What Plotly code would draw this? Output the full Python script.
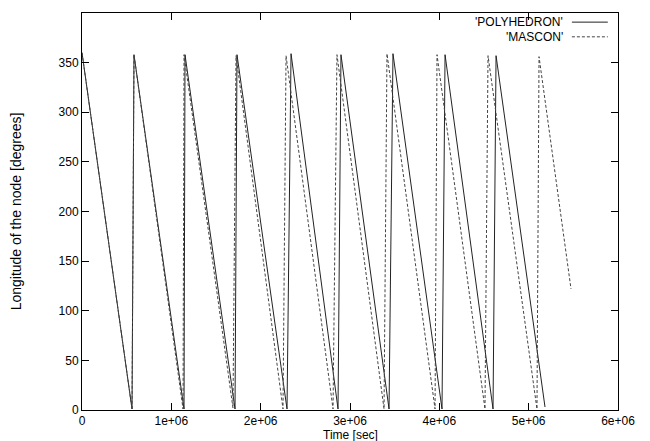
import plotly.graph_objects as go

# Time [sec] (x 1e6) and longitude of node [deg]
poly_t = [0.0, 0.560, 0.582, 1.142, 1.153, 1.713, 1.735, 2.295, 2.340, 2.866, 2.899,
          3.437, 3.481, 4.030, 4.064, 4.601, 4.635, 5.183]
poly_v = [360, 1, 358, 1, 358, 1, 358, 1, 359, 1, 358, 1, 359, 1, 358, 1, 357, 3]

mascon_t = [0.0, 0.560, 0.582, 1.131, 1.142, 1.690, 1.724, 2.250, 2.284, 2.810, 2.854,
            3.381, 3.414, 3.952, 3.974, 4.511, 4.545, 5.093, 5.116, 5.474]
mascon_v = [360, 1, 358, 1, 358, 2, 357, 1, 357, 1, 358, 1, 359, 1, 358, 1, 357, 1, 356, 122]

x_ticks = [0, 1e6, 2e6, 3e6, 4e6, 5e6, 6e6]
x_tick_labels = ["0", "1e+06", "2e+06", "3e+06", "4e+06", "5e+06", "6e+06"]
y_ticks = [0, 50, 100, 150, 200, 250, 300, 350, 400]

fig = go.Figure()
fig.add_trace(go.Scatter(x=[t * 1e6 for t in poly_t], y=poly_v, mode="lines",
                         line=dict(color="#222222", width=1), name="'POLYHEDRON'",
                         showlegend=False))
fig.add_trace(go.Scatter(x=[t * 1e6 for t in mascon_t], y=mascon_v, mode="lines",
                         line=dict(color="#444444", width=1, dash="3px,2px"), name="'MASCON'",
                         showlegend=False))

font = dict(family="Liberation Sans, Arial, sans-serif", size=12, color="black")

fig.update_layout(
    width=650, height=441,
    margin=dict(l=74, r=40, t=5, b=39),
    paper_bgcolor="white", plot_bgcolor="white",
    font=font,
    xaxis=dict(range=[0, 6e6], tickvals=x_ticks, ticktext=x_tick_labels,
               showgrid=False, zeroline=False, showline=True, linecolor="black",
               linewidth=1, mirror="ticks", ticks="inside", ticklen=7,
               tickcolor="black", automargin=False, ticklabelstandoff=0),
    yaxis=dict(range=[0, 400], tickvals=y_ticks,
               showgrid=False, zeroline=False, showline=True, linecolor="black",
               linewidth=1, mirror="ticks", ticks="inside", ticklen=7,
               tickcolor="black", automargin=False,
               title=dict(text="Longitude of the node [degrees]", standoff=37)),
)

# x-axis title placed tight under the tick labels, as in gnuplot
fig.add_annotation(x=0.5, y=-0.063, xref="paper", yref="paper", xanchor="center",
                   yanchor="middle", text="Time [sec]", showarrow=False, font=font)

# gnuplot-style key: text right-aligned, sample line to the right
fig.add_annotation(x=0.901, y=0.977, xref="paper", yref="paper", xanchor="right",
                   yanchor="middle", text="'POLYHEDRON'", showarrow=False, font=font)
fig.add_annotation(x=0.901, y=0.940, xref="paper", yref="paper", xanchor="right",
                   yanchor="middle", text="'MASCON'", showarrow=False, font=font)
fig.add_shape(type="line", xref="paper", yref="paper", x0=0.914, x1=0.981, y0=0.977, y1=0.977,
              line=dict(color="#222222", width=1))
fig.add_shape(type="line", xref="paper", yref="paper", x0=0.914, x1=0.981, y0=0.940, y1=0.940,
              line=dict(color="#444444", width=1, dash="3px,2px"))

fig.write_html("out.html")
